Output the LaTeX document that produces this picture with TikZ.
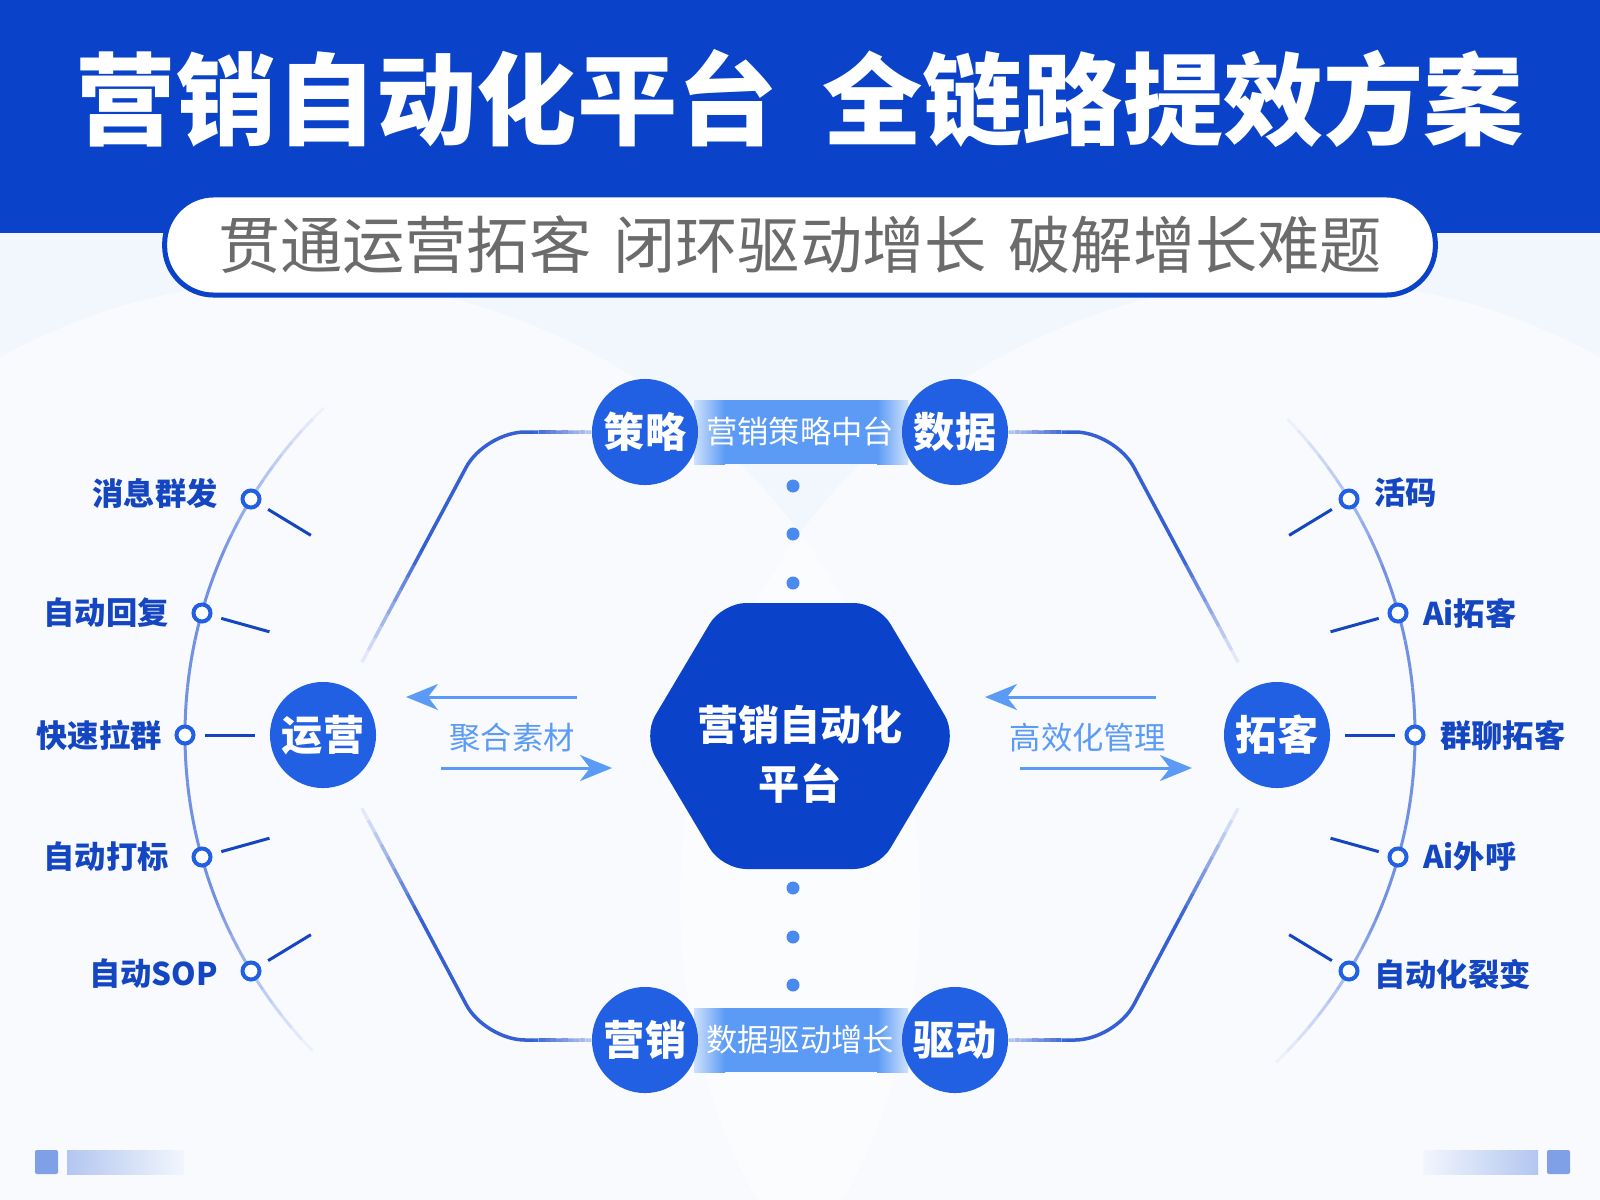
\documentclass[tikz,border=0pt]{standalone}
\usepackage{fontspec}
\setmainfont{Noto Sans CJK SC}
\usetikzlibrary{calc,positioning,arrows.meta}

\definecolor{bandblue}{HTML}{0A43C9}
\definecolor{ballblue}{HTML}{2260E3}
\definecolor{skyblue}{HTML}{5B9BF5}
\definecolor{lineblue}{HTML}{3560D4}
\definecolor{arcblue}{HTML}{5A7FE0}
\definecolor{leafblue}{HTML}{1546C2}
\definecolor{pagebg}{HTML}{F2F6FD}
\definecolor{sloggray}{HTML}{6B6B6B}
\definecolor{chipblue}{HTML}{7F9FE6}
\definecolor{barblue}{HTML}{B3C6F0}

% fade a straight stroke from #1 to #2, opacity #3 -> #4
\newcommand\fadeline[4]{%
  \foreach \k in {0,...,9}{%
    \pgfmathsetmacro\op{#3+(#4-#3)*\k/9}%
    \draw[hexline,draw opacity=\op] ($(#1)!{\k/10}!(#2)$) -- ($(#1)!{(\k+1)/10}!(#2)$);}}

\begin{document}
\begin{tikzpicture}
[x=0.01cm,y=-0.01cm,
  ball/.style={circle,fill=ballblue,text=white,minimum size=1.06cm,inner sep=0pt,
    font=\fontsize{11.7}{14}\selectfont\bfseries},
  bead/.style={circle,fill=skyblue!70!ballblue,minimum size=0.13cm,inner sep=0pt},
  knob/.style={circle,draw=ballblue,line width=0.04cm,fill=white,minimum size=0.17cm,inner sep=0pt},
  spoke/.style={draw=leafblue,line width=0.03cm},
  hexline/.style={draw=lineblue,line width=0.035cm},
  arcline/.style={draw=arcblue,line width=0.03cm},
  flowarrow/.style={draw=skyblue,line width=0.03cm,-{Stealth[length=0.32cm,width=0.26cm,inset=0.1cm]}},
  flowtext/.style={text=skyblue,font=\fontsize{8.9}{11}\selectfont},
  striptext/.style={text=white,font=\fontsize{8.9}{11}\selectfont},
  leaf/.style={text=leafblue,inner sep=0pt,font=\fontsize{8.9}{11}\selectfont\bfseries}]
\useasboundingbox (0,0) rectangle (1600,1200);
% page and header
\fill[pagebg] (0,0) rectangle (1600,1200);
\begin{scope}
  \clip (0,233) rectangle (1600,1200);
  \fill[white,opacity=0.5] (300,900) circle[radius=620];
  \fill[white,opacity=0.5] (1300,900) circle[radius=620];
\end{scope}
\fill[bandblue] (0,0) rectangle (1600,233);
\node[text=white,font=\fontsize{28.5}{34}\selectfont\bfseries] (title) at (800,99)
  {营销自动化平台\hspace{0.45em}全链路提效方案};
\node[draw=bandblue,line width=0.05cm,fill=white,rounded corners=0.49cm,
  minimum width=12.7cm,minimum height=1cm,text=sloggray,
  font=\fontsize{17.7}{21}\selectfont] (slogan) at (800,245)
  {贯通运营拓客\hspace{0.35em}闭环驱动增长\hspace{0.35em}破解增长难题};

% strips between the balls
\fill[skyblue] (694,400) rectangle (908,464);
\shade[left color=skyblue!30,right color=skyblue] (694,400) rectangle (725,464);
\shade[left color=skyblue,right color=skyblue!30] (877,400) rectangle (908,464);
\fill[skyblue] (694,1008) rectangle (908,1072);
\shade[left color=skyblue!30,right color=skyblue] (694,1008) rectangle (725,1072);
\shade[left color=skyblue,right color=skyblue!30] (877,1008) rectangle (908,1072);

\node[ball] (celue) at (645,432) {策略};
\node[ball] (shuju) at (955,432) {数据};
\node[ball] (yingxiao) at (645,1040) {营销};
\node[ball] (qudong) at (955,1040) {驱动};
\node[ball] (yunying) at (323,735) {运营};
\node[ball] (tuoke) at (1277,735) {拓客};
\node[striptext] (zhongtai) at (800,432) {营销策略中台};
\node[striptext] (zengzhang) at (800,1040) {数据驱动增长};

% outer frame
\coordinate (tl) at (485,432);
\coordinate (tr) at (1115,432);
\coordinate (bl) at (485,1040);
\coordinate (br) at (1115,1040);
\coordinate (tlh) at ($(tl)!0.45!(celue.west)$);
\coordinate (tld) at ($(tl)!0.4!(yunying)$);
\coordinate (tle) at ($(tl)!0.8!(yunying)$);
\coordinate (trh) at ($(tr)!0.45!(shuju.east)$);
\coordinate (trd) at ($(tr)!0.4!(tuoke)$);
\coordinate (tre) at ($(tr)!0.8!(tuoke)$);
\coordinate (blh) at ($(bl)!0.45!(yingxiao.west)$);
\coordinate (bld) at ($(bl)!0.4!(yunying)$);
\coordinate (ble) at ($(bl)!0.8!(yunying)$);
\coordinate (brh) at ($(br)!0.45!(qudong.east)$);
\coordinate (brd) at ($(br)!0.4!(tuoke)$);
\coordinate (bre) at ($(br)!0.8!(tuoke)$);
\draw[hexline,rounded corners=0.4cm] (tlh) -- (tl) -- (tld);
\draw[hexline,rounded corners=0.4cm] (trh) -- (tr) -- (trd);
\draw[hexline,rounded corners=0.4cm] (blh) -- (bl) -- (bld);
\draw[hexline,rounded corners=0.4cm] (brh) -- (br) -- (brd);
\fadeline{tlh}{celue.west}{0.95}{0.35}
\fadeline{trh}{shuju.east}{0.95}{0.35}
\fadeline{blh}{yingxiao.west}{0.95}{0.35}
\fadeline{brh}{qudong.east}{0.95}{0.35}
\fadeline{tld}{tle}{0.95}{0}
\fadeline{trd}{tre}{0.95}{0}
\fadeline{bld}{ble}{0.95}{0}
\fadeline{brd}{bre}{0.95}{0}

% dotted spine
\node[bead] (bead1) at (793,486) {};
\node[bead] (bead2) at (793,534) {};
\node[bead] (bead3) at (793,583) {};
\node[bead] (bead4) at (793,888) {};
\node[bead] (bead5) at (793,937) {};
\node[bead] (bead6) at (793,985) {};

% hub
\draw[fill=bandblue,draw=none,rounded corners=0.24cm]
  (643,736) -- (722,603) -- (878,603) -- (957,736) -- (878,869) -- (722,869) -- cycle;
\node[text=white,align=center,font=\fontsize{11.7}{16.8}\selectfont\bfseries] (pingtai)
  at (800,754) {营销自动化\\平台};

% flows
\coordinate (ja) at (577,697);
\coordinate (jb) at (406,697);
\coordinate (jc) at (441,768);
\coordinate (jd) at (612,768);
\draw[flowarrow] (ja) -- (jb);
\draw[flowarrow] (jc) -- (jd);
\node[flowtext] (juhe) at (512,738) {聚合素材};
\coordinate (ga) at (1156,697);
\coordinate (gb) at (985,697);
\coordinate (gc) at (1020,768);
\coordinate (gd) at (1192,768);
\draw[flowarrow] (ga) -- (gb);
\draw[flowarrow] (gc) -- (gd);
\node[flowtext] (gaoxiao) at (1088,738) {高效化管理};

% side arcs
\coordinate (cL) at (640,735);
\coordinate (cR) at (960,735);
\foreach \a in {134,136,...,224}{
  \pgfmathsetmacro\op{0.85*min(1,(\a-134)/24,(226-\a)/24)}
  \draw[arcline,draw opacity=\op] ($(cL)+(\a:455)$) arc[start angle=\a,delta angle=2,radius=455];
}
\foreach \a in {-46,-44,...,44}{
  \pgfmathsetmacro\op{0.85*min(1,(\a+46)/24,(46-\a)/24)}
  \draw[arcline,draw opacity=\op] ($(cR)+(\a:455)$) arc[start angle=\a,delta angle=2,radius=455];
}

\node[knob] (kl1) at (251,499) {};
\node[knob] (kl2) at (202,613) {};
\node[knob] (kl3) at (185,735) {};
\node[knob] (kl4) at (202,857) {};
\node[knob] (kl5) at (251,971) {};
\node[knob] (kr1) at (1349,499) {};
\node[knob] (kr2) at (1398,613) {};
\node[knob] (kr3) at (1415,735) {};
\node[knob] (kr4) at (1398,857) {};
\node[knob] (kr5) at (1349,971) {};
\draw[spoke] ($(kl1)!0.2cm!(cL)$) -- ($(kl1)!0.7cm!(cL)$);
\draw[spoke] ($(kl2)!0.2cm!(cL)$) -- ($(kl2)!0.7cm!(cL)$);
\draw[spoke] ($(kl3)!0.2cm!(cL)$) -- ($(kl3)!0.7cm!(cL)$);
\draw[spoke] ($(kl4)!0.2cm!(cL)$) -- ($(kl4)!0.7cm!(cL)$);
\draw[spoke] ($(kl5)!0.2cm!(cL)$) -- ($(kl5)!0.7cm!(cL)$);
\draw[spoke] ($(kr1)!0.2cm!(cR)$) -- ($(kr1)!0.7cm!(cR)$);
\draw[spoke] ($(kr2)!0.2cm!(cR)$) -- ($(kr2)!0.7cm!(cR)$);
\draw[spoke] ($(kr3)!0.2cm!(cR)$) -- ($(kr3)!0.7cm!(cR)$);
\draw[spoke] ($(kr4)!0.2cm!(cR)$) -- ($(kr4)!0.7cm!(cR)$);
\draw[spoke] ($(kr5)!0.2cm!(cR)$) -- ($(kr5)!0.7cm!(cR)$);
\node[leaf,left=0.22cm of kl1,yshift=0.06cm] (xiaoxi) {消息群发};
\node[leaf,left=0.22cm of kl2] (huifu) {自动回复};
\node[leaf,left=0.12cm of kl3] (laqun) {快速拉群};
\node[leaf,left=0.22cm of kl4] (dabiao) {自动打标};
\node[leaf,left=0.22cm of kl5,yshift=-0.03cm] (sop) {自动SOP};
\node[leaf,right=0.14cm of kr1,yshift=0.06cm] (huoma) {活码};
\node[leaf,right=0.14cm of kr2] (aituoke) {Ai拓客};
\node[leaf,right=0.14cm of kr3] (qunliao) {群聊拓客};
\node[leaf,right=0.14cm of kr4] (waihu) {Ai外呼};
\node[leaf,right=0.14cm of kr5,yshift=-0.03cm] (liebian) {自动化裂变};

% corner marks
\fill[chipblue,rounded corners=0.02cm] (35,1150) rectangle (58,1174);
\shade[left color=barblue,right color=pagebg] (67,1150) rectangle (184,1174);
\shade[left color=pagebg,right color=barblue] (1423,1150) rectangle (1538,1174);
\fill[chipblue,rounded corners=0.02cm] (1547,1150) rectangle (1570,1174);
\end{tikzpicture}
\end{document}
